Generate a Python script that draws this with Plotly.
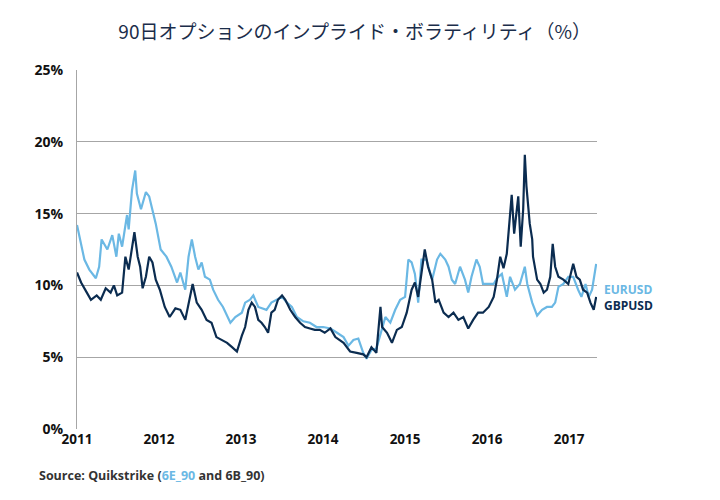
import plotly.graph_objects as go

# Decimal-year dates and implied volatility (%)
eur_t = [2011.00, 2011.09, 2011.15, 2011.23, 2011.27, 2011.30, 2011.37, 2011.43, 2011.48, 2011.51,
         2011.55, 2011.61, 2011.63, 2011.67, 2011.71, 2011.73, 2011.78, 2011.80, 2011.84, 2011.88,
         2011.91, 2011.96, 2012.02, 2012.09, 2012.15, 2012.22, 2012.26, 2012.32, 2012.36, 2012.40,
         2012.44, 2012.48, 2012.52, 2012.56, 2012.62, 2012.66, 2012.72, 2012.78, 2012.87, 2012.93,
         2013.01, 2013.05, 2013.11, 2013.15, 2013.21, 2013.27, 2013.31, 2013.37, 2013.44, 2013.50,
         2013.56, 2013.62, 2013.68, 2013.76, 2013.84, 2013.92, 2014.00, 2014.09, 2014.17, 2014.25,
         2014.31, 2014.37, 2014.43, 2014.49, 2014.53, 2014.59, 2014.65, 2014.72, 2014.76, 2014.82,
         2014.88, 2014.94, 2015.00, 2015.04, 2015.08, 2015.12, 2015.16, 2015.20, 2015.26, 2015.33,
         2015.39, 2015.43, 2015.49, 2015.53, 2015.57, 2015.61, 2015.67, 2015.73, 2015.77, 2015.81,
         2015.87, 2015.91, 2015.95, 2016.02, 2016.08, 2016.12, 2016.18, 2016.24, 2016.28, 2016.34,
         2016.40, 2016.46, 2016.49, 2016.55, 2016.61, 2016.67, 2016.73, 2016.79, 2016.83, 2016.87,
         2016.93, 2016.99, 2017.05, 2017.11, 2017.15, 2017.20, 2017.24, 2017.28, 2017.31, 2017.33]
eur_v = [14.2, 11.8, 11.1, 10.5, 11.3, 13.2, 12.5, 13.5, 12.0, 13.6,
         12.7, 14.9, 13.9, 16.6, 18.0, 16.4, 15.3, 15.7, 16.5, 16.2,
         15.5, 14.3, 12.5, 12.0, 11.3, 10.2, 10.9, 9.7, 12.0, 13.2,
         12.0, 11.1, 11.6, 10.6, 10.4, 9.7, 9.0, 8.5, 7.4, 7.8,
         8.1, 8.8, 9.0, 9.3, 8.5, 8.4, 8.3, 8.8, 9.0, 9.2,
         8.8, 8.5, 7.8, 7.5, 7.4, 7.1, 7.1, 7.0, 6.7, 6.4,
         5.8, 6.2, 6.3, 5.3, 4.9, 5.5, 5.6, 6.9, 7.8, 7.4,
         8.3, 9.0, 9.2, 11.8, 11.6, 10.8, 8.8, 11.8, 11.8, 10.4,
         11.8, 12.2, 11.8, 11.3, 10.4, 10.1, 11.3, 10.4, 9.5, 10.6,
         11.8, 11.3, 10.1, 10.1, 10.1, 10.5, 10.8, 9.2, 10.6, 9.7,
         10.1, 11.3, 10.1, 8.8, 7.9, 8.3, 8.5, 8.5, 8.8, 9.9,
         10.1, 10.6, 10.6, 9.7, 9.2, 10.1, 9.2, 9.7, 10.8, 11.5]

gbp_t = [2011.00, 2011.05, 2011.12, 2011.17, 2011.24, 2011.29, 2011.35, 2011.41, 2011.45, 2011.49,
         2011.55, 2011.59, 2011.63, 2011.67, 2011.70, 2011.74, 2011.77, 2011.80, 2011.84, 2011.88,
         2011.92, 2011.96, 2012.01, 2012.07, 2012.13, 2012.20, 2012.26, 2012.32, 2012.38, 2012.41,
         2012.46, 2012.52, 2012.58, 2012.64, 2012.70, 2012.77, 2012.83, 2012.89, 2012.95, 2013.01,
         2013.05, 2013.09, 2013.13, 2013.17, 2013.21, 2013.25, 2013.29, 2013.33, 2013.37, 2013.41,
         2013.45, 2013.50, 2013.54, 2013.60, 2013.66, 2013.72, 2013.78, 2013.84, 2013.90, 2013.96,
         2014.02, 2014.09, 2014.15, 2014.25, 2014.33, 2014.41, 2014.49, 2014.53, 2014.59, 2014.65,
         2014.70, 2014.72, 2014.78, 2014.84, 2014.90, 2014.96, 2015.02, 2015.08, 2015.12, 2015.16,
         2015.24, 2015.28, 2015.33, 2015.37, 2015.41, 2015.47, 2015.53, 2015.59, 2015.65, 2015.71,
         2015.77, 2015.83, 2015.89, 2015.95, 2016.02, 2016.08, 2016.12, 2016.16, 2016.20, 2016.24,
         2016.28, 2016.30, 2016.33, 2016.35, 2016.38, 2016.41, 2016.44, 2016.46, 2016.48, 2016.52,
         2016.55, 2016.56, 2016.61, 2016.65, 2016.69, 2016.73, 2016.77, 2016.80, 2016.83, 2016.87,
         2016.93, 2016.99, 2017.05, 2017.09, 2017.13, 2017.17, 2017.22, 2017.26, 2017.30, 2017.33]
gbp_v = [10.9, 10.2, 9.5, 9.0, 9.3, 9.0, 9.8, 9.5, 10.0, 9.3,
         9.5, 12.0, 11.1, 12.7, 13.7, 12.0, 11.3, 9.8, 10.6, 12.0,
         11.6, 10.4, 9.7, 8.5, 7.8, 8.4, 8.3, 7.6, 9.2, 10.1,
         8.8, 8.3, 7.6, 7.4, 6.4, 6.2, 6.0, 5.7, 5.4, 6.5,
         7.1, 8.3, 8.8, 8.5, 7.6, 7.4, 7.1, 6.7, 8.1, 8.3,
         9.0, 9.3, 9.0, 8.3, 7.8, 7.4, 7.1, 7.0, 6.9, 6.9,
         6.7, 7.0, 6.4, 6.0, 5.4, 5.3, 5.2, 5.0, 5.7, 5.3,
         8.5, 7.1, 6.7, 6.0, 6.9, 7.1, 8.1, 9.7, 10.2, 9.2,
         12.5, 11.3, 10.4, 8.8, 9.0, 8.1, 7.8, 8.1, 7.6, 7.8,
         7.0, 7.6, 8.1, 8.1, 8.5, 9.2, 10.4, 12.0, 11.2, 12.2,
         14.8, 16.3, 13.6, 14.8, 16.2, 12.7, 15.3, 19.1, 16.9, 14.3,
         13.2, 12.0, 10.4, 10.1, 9.5, 9.7, 10.6, 12.9, 11.3, 10.6,
         10.4, 10.1, 11.5, 10.6, 10.4, 9.7, 9.5, 8.8, 8.3, 9.2]

year_ticks = [2011, 2012, 2013, 2014, 2015, 2016, 2017]
pct_ticks = [0, 5, 10, 15, 20, 25]
pct_labels = ["0%", "5%", "10%", "15%", "20%", "25%"]

EUR_COLOR = "#6BB8E4"
GBP_COLOR = "#0B2C50"

fig = go.Figure()
fig.add_trace(go.Scatter(x=eur_t, y=eur_v, mode="lines", name="EURUSD",
                         line=dict(color=EUR_COLOR, width=2.2)))
fig.add_trace(go.Scatter(x=gbp_t, y=gbp_v, mode="lines", name="GBPUSD",
                         line=dict(color=GBP_COLOR, width=2.2)))

fig.update_layout(
    width=712, height=492,
    margin=dict(l=69, r=123, t=62, b=71),
    paper_bgcolor="white", plot_bgcolor="white",
    showlegend=False,
    title=dict(text="90日オプションのインプライド・ボラティリティ（%）",
               x=0.487, xanchor="center", y=0.951, yanchor="middle",
               font=dict(family="Noto Sans CJK JP", size=19, color="#1B2D4A")),
    xaxis=dict(range=[2011, 2017.34], tickvals=year_ticks,
               ticktext=[str(y) for y in year_ticks],
               showgrid=False, zeroline=False, showline=False,
               ticks="", tickfont=dict(family="Open Sans", size=13.5, color="#111", weight="bold")),
    yaxis=dict(range=[0, 25], tickvals=pct_ticks, ticktext=pct_labels,
               showgrid=True, gridcolor="#A6A6A6", gridwidth=1.3,
               zeroline=False, showline=True, linecolor="#A6A6A6", linewidth=1.3,
               ticks="", ticklabelstandoff=10,
               tickfont=dict(family="Open Sans", size=14, color="#111", weight="bold")),
)

fig.add_annotation(text="EURUSD", xref="paper", x=1, xanchor="left", xshift=5,
                   yref="y", y=9.7, yanchor="middle", showarrow=False,
                   font=dict(family="Open Sans", size=12, color=EUR_COLOR, weight="bold"))
fig.add_annotation(text="GBPUSD", xref="paper", x=1, xanchor="left", xshift=5,
                   yref="y", y=8.6, yanchor="middle", showarrow=False,
                   font=dict(family="Open Sans", size=12, color=GBP_COLOR, weight="bold"))
fig.add_annotation(text="Source: Quikstrike (<span style='color:%s'>6E_90</span> and 6B_90)" % EUR_COLOR,
                   xref="paper", yref="paper", x=-0.077, xanchor="left",
                   y=-0.130, yanchor="middle", showarrow=False,
                   font=dict(family="Open Sans", size=12.5, color="#333333", weight="bold"))

fig.write_html("out.html")
